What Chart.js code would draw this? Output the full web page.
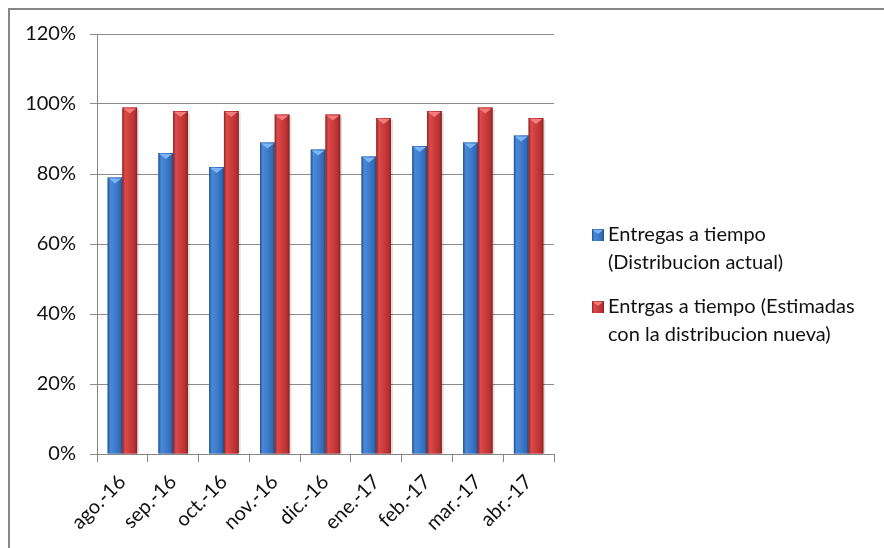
<!DOCTYPE html>
<html lang="es">
<head>
<meta charset="UTF-8">
<title>Entregas a tiempo</title>
<script src="https://cdn.jsdelivr.net/npm/chart.js"></script>
<style>
    html, body { margin: 0; padding: 0; background: #fff; overflow: hidden; }
    #wrap { position: relative; width: 884px; height: 548px; }
    #frame {
        position: absolute; left: 8px; top: 8px; width: 900px; height: 560px;
        border-left: 2px solid #868686; border-top: 2px solid #868686;
        pointer-events: none;
    }
    canvas { position: absolute; left: 0; top: 0; }
</style>
</head>
<body>
<div id="wrap">
    <canvas id="myChart" width="884" height="548"></canvas>
    <div id="frame"></div>
</div>

<script>
    // datos mensuales (porcentaje de entregas a tiempo)
    const meses = ['ago.-16', 'sep.-16', 'oct.-16', 'nov.-16', 'dic.-16', 'ene.-17', 'feb.-17', 'mar.-17', 'abr.-17'];
    const entregasActual = [79, 86, 82, 89, 87, 85, 88, 89, 91];
    const entregasEstimadas = [99, 98, 98, 97, 97, 96, 98, 99, 96];
    const leyenda = [
        ['Entregas a tiempo', '(Distribucion actual)'],
        ['Entrgas a tiempo (Estimadas', 'con la distribucion nueva)']
    ];

    const FONT = 'Lato, "Open Sans", sans-serif';

    // degradados tipo Excel para cada serie
    const estilos = [
        { base: '#3b78c9', stops: ['#22508c', '#4a89d8', '#3e7ccc', '#3369b4', '#1f4880'], tope: '#7db6f4' },
        { base: '#c93636', stops: ['#8c2323', '#dc4b4b', '#cd3c3c', '#b52f2f', '#821f1f'], tope: '#f27d7d' }
    ];

    function pintarBarra(ctx, left, right, top, bottom, est) {
        const g = ctx.createLinearGradient(left, 0, right, 0);
        g.addColorStop(0, est.stops[0]);
        g.addColorStop(0.18, est.stops[1]);
        g.addColorStop(0.5, est.stops[2]);
        g.addColorStop(0.85, est.stops[3]);
        g.addColorStop(1, est.stops[4]);
        ctx.fillStyle = g;
        ctx.fillRect(left, top, right - left, bottom - top);
    }

    const barrasSombreadas = {
        id: 'barrasSombreadas',
        afterDatasetsDraw(chart) {
            const ctx = chart.ctx;
            ctx.save();
            chart.data.datasets.forEach((ds, i) => {
                const meta = chart.getDatasetMeta(i);
                const est = estilos[i];
                meta.data.forEach(el => {
                    const { x, y, base, width } = el.getProps(['x', 'y', 'base', 'width'], true);
                    const l = x - width / 2, r = x + width / 2;
                    // sombra suave a la derecha
                    ctx.fillStyle = 'rgba(0,0,0,0.12)';
                    ctx.fillRect(r, y + 2, 2, base - y - 2);
                    pintarBarra(ctx, l, r, y, base, est);
                    // bisel superior
                    ctx.fillStyle = est.tope;
                    ctx.beginPath();
                    ctx.moveTo(l + 1, y + 1);
                    ctx.lineTo(r - 1, y + 1);
                    ctx.lineTo(x, y + 6);
                    ctx.closePath();
                    ctx.fill();
                });
            });
            ctx.restore();
        }
    };

    const leyendaLateral = {
        id: 'leyendaLateral',
        afterDraw(chart) {
            const ctx = chart.ctx;
            ctx.save();
            ctx.font = '20px ' + FONT;
            ctx.textBaseline = 'middle';
            const inicios = [235, 307];
            leyenda.forEach((lineas, i) => {
                const y0 = inicios[i];
                pintarBarra(ctx, 592, 604, y0 - 6, y0 + 6, estilos[i]);
                ctx.fillStyle = estilos[i].tope;
                ctx.beginPath();
                ctx.moveTo(593, y0 - 5);
                ctx.lineTo(603, y0 - 5);
                ctx.lineTo(598, y0 - 1);
                ctx.closePath();
                ctx.fill();
                ctx.fillStyle = '#111';
                lineas.forEach((t, k) => ctx.fillText(t, 608, y0 + k * 28));
            });
            ctx.restore();
        }
    };

    const ctx = document.getElementById('myChart').getContext('2d');
    new Chart(ctx, {
        type: 'bar',
        data: {
            labels: meses,
            datasets: [
                { label: leyenda[0].join(' '), data: entregasActual, backgroundColor: estilos[0].base },
                { label: leyenda[1].join(' '), data: entregasEstimadas, backgroundColor: estilos[1].base }
            ]
        },
        options: {
            responsive: false,
            animation: false,
            layout: { padding: { left: 0, top: 34, right: 330, bottom: 0 } },
            datasets: { bar: { categoryPercentage: 0.58, barPercentage: 1 } },
            plugins: { legend: { display: false }, tooltip: { enabled: false } },
            scales: {
                x: {
                    grid: { drawOnChartArea: false, drawTicks: true, tickLength: 8, color: '#868686' },
                    border: { color: '#868686', width: 1 },
                    ticks: {
                        autoSkip: false, minRotation: 45, maxRotation: 45, padding: 8,
                        color: '#111', font: { family: FONT, size: 20 }
                    },
                    afterFit(scale) { scale.height = 94; }
                },
                y: {
                    min: 0, max: 120,
                    grid: { color: '#8c8c8c', tickLength: 7 },
                    border: { color: '#868686', width: 1 },
                    ticks: {
                        stepSize: 20, padding: 14, color: '#111',
                        font: { family: FONT, size: 20 },
                        callback: v => v + '%'
                    },
                    afterFit(scale) { scale.width = 97; }
                }
            }
        },
        plugins: [barrasSombreadas, leyendaLateral]
    });
</script>
</body>
</html>
